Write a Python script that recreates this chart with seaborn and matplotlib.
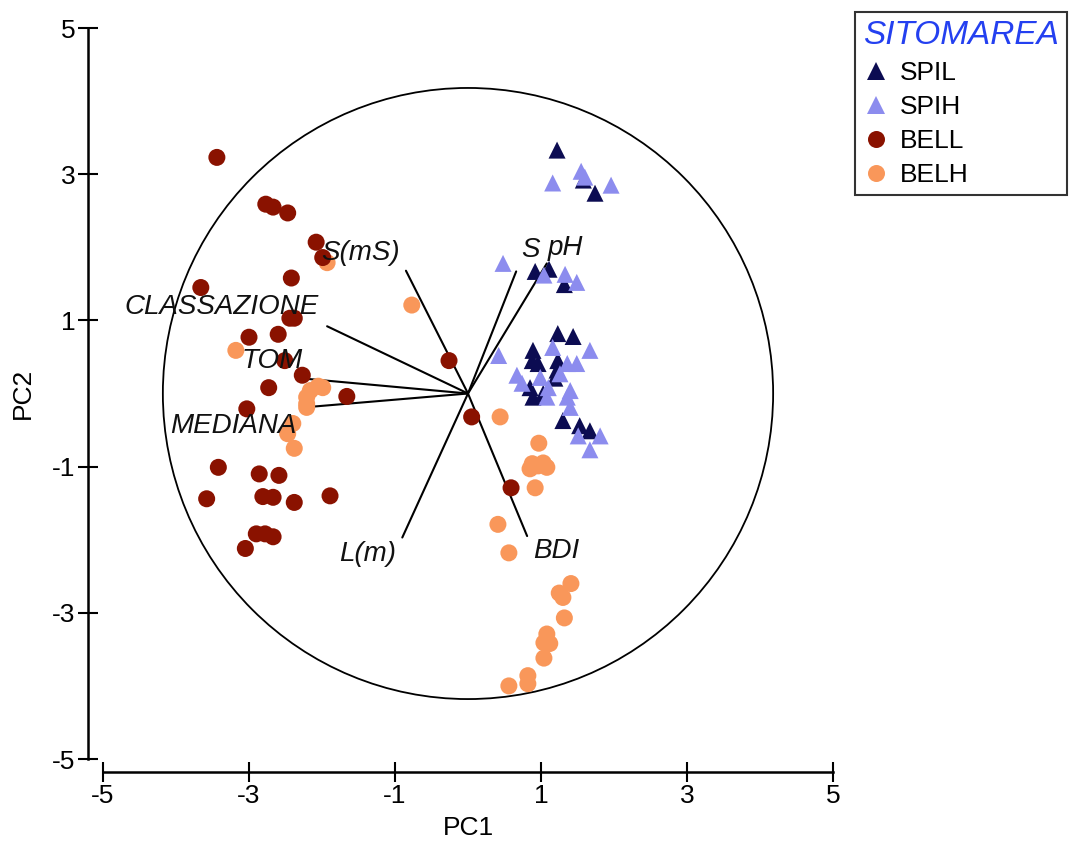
import matplotlib
matplotlib.use('Agg')
import matplotlib.pyplot as plt
import seaborn as sns
import pandas as pd
from matplotlib.patches import Circle

# site scores (PC1, PC2)
spil_x = [1.22, 1.58, 1.74, 0.92, 1.11, 1.32, 1.23, 1.44, 0.89, 0.88, 1.23, 1.22, 0.96,
          0.85, 0.89, 1.03, 1.19, 1.30, 1.53, 1.67]
spil_y = [3.33, 2.92, 2.74, 1.67, 1.70, 1.49, 0.82, 0.78, 0.59, 0.45, 0.45, 0.32, 0.41,
          0.08, -0.05, 0.00, 0.21, -0.37, -0.44, -0.51]
spih_x = [1.16, 1.55, 1.60, 1.96, 0.48, 1.04, 1.33, 1.49, 0.42, 1.16, 1.67, 0.67, 0.74,
          1.36, 1.49, 1.26, 1.40, 1.36, 1.40, 1.08, 1.10, 0.99, 1.51, 1.81, 1.67]
spih_y = [2.88, 3.04, 2.96, 2.85, 1.78, 1.62, 1.63, 1.52, 0.52, 0.63, 0.59, 0.25, 0.14,
          0.41, 0.41, 0.27, 0.04, -0.05, -0.19, -0.05, 0.08, 0.22, -0.58, -0.58, -0.77]
bell_x = [-3.44, -2.77, -2.67, -2.47, -2.08, -1.99, -2.42, -3.66, -2.44, -2.38, -3.00, -2.60,
          -2.51, -2.27, -2.73, -1.66, -3.03, -0.26, 0.05, -3.42, -2.86, -2.59, -3.58, -2.81,
          -2.67, -2.38, -1.89, -2.90, -2.78, -2.67, -3.05, 0.59]
bell_y = [3.23, 2.59, 2.55, 2.47, 2.07, 1.86, 1.58, 1.45, 1.03, 1.03, 0.77, 0.81,
          0.45, 0.25, 0.08, -0.04, -0.21, 0.45, -0.32, -1.01, -1.10, -1.12, -1.44, -1.41,
          -1.42, -1.49, -1.40, -1.92, -1.92, -1.96, -2.12, -1.29]
belh_x = [-0.77, -1.93, -3.18, -2.16, -1.99, -2.21, -2.21, -2.40, -2.47, -2.38, -2.21,
          0.44, 0.97, 0.88, 1.03, 0.85, 0.96, 1.08, 0.92, 0.41, 0.56, 1.41, 1.25, 1.30,
          1.32, 1.08, 1.12, 1.04, 1.04, 0.82, 0.82, 0.56, -2.05]
belh_y = [1.21, 1.79, 0.59, 0.04, 0.08, -0.05, -0.14, -0.41, -0.55, -0.75, -0.19,
          -0.32, -0.68, -0.96, -0.95, -1.03, -0.99, -1.01, -1.29, -1.79, -2.18, -2.60, -2.73, -2.79,
          -3.07, -3.29, -3.42, -3.41, -3.62, -3.86, -3.97, -4.00, 0.10]

# variable loadings
var_names = ['S(mS)', 'CLASSAZIONE', 'TOM', 'MEDIANA', 'L(m)', 'BDI', 'S', 'pH']
var_x = [-0.85, -1.93, -2.20, -2.25, -0.90, 0.81, 0.66, 1.08]
var_y = [1.68, 0.92, 0.20, -0.19, -1.97, -1.95, 1.67, 1.78]
lab_x = [-1.47, -3.37, -2.68, -3.22, -1.37, 1.21, 0.85, 1.34]
lab_y = [1.92, 1.18, 0.45, -0.44, -2.19, -2.16, 1.96, 1.99]

groups = ['SPIL', 'SPIH', 'BELL', 'BELH']
colors = {'SPIL': '#0c0c52', 'SPIH': '#8c8cee', 'BELL': '#8a1200', 'BELH': '#f9975a'}
marks = {'SPIL': '^', 'SPIH': '^', 'BELL': 'o', 'BELH': 'o'}

df = pd.concat([
    pd.DataFrame({'PC1': belh_x, 'PC2': belh_y, 'SITOMAREA': 'BELH'}),
    pd.DataFrame({'PC1': bell_x, 'PC2': bell_y, 'SITOMAREA': 'BELL'}),
    pd.DataFrame({'PC1': spil_x, 'PC2': spil_y, 'SITOMAREA': 'SPIL'}),
    pd.DataFrame({'PC1': spih_x, 'PC2': spih_y, 'SITOMAREA': 'SPIH'}),
], ignore_index=True)

sns.set_theme(style='white')
plt.rcParams['font.family'] = ['Liberation Sans', 'DejaVu Sans']
plt.rcParams['axes.unicode_minus'] = False
plt.rcParams['text.color'] = 'black'
plt.rcParams['axes.labelcolor'] = 'black'

fig = plt.figure(figsize=(10.74, 8.49), dpi=100)
ax = fig.add_axes([0.0959, 0.106, 0.6797, 0.861])

ax.add_patch(Circle((0, 0), 4.18, fill=False, edgecolor='black', linewidth=1.3, zorder=1))
for vx, vy in zip(var_x, var_y):
    ax.plot([0, vx], [0, vy], color='black', linewidth=1.5, zorder=1)

sns.scatterplot(data=df, x='PC1', y='PC2', hue='SITOMAREA', style='SITOMAREA',
                hue_order=groups, style_order=groups, palette=colors, markers=marks,
                s=150, linewidth=0, ax=ax, zorder=2)

for name, tx, ty in zip(var_names, lab_x, lab_y):
    ax.text(tx, ty, name, fontsize=20, style='italic', ha='center', va='center',
            color='#111111', zorder=3)

ax.set_xlim(-5, 5)
ax.set_ylim(-5, 5)
ax.set_xticks([-5, -3, -1, 1, 3, 5])
ax.set_yticks([-5, -3, -1, 1, 3, 5])
ax.set_xlabel('PC1', fontsize=19, labelpad=6)
ax.set_ylabel('PC2', fontsize=19, labelpad=12)
ax.tick_params(bottom=True, left=True, direction='inout', length=14, width=1.5,
               labelsize=19, colors='black', pad=2)
for side in ['top', 'right']:
    ax.spines[side].set_visible(False)
ax.spines['left'].set_position(('outward', 11))
ax.spines['bottom'].set_position(('outward', 9))
for side in ['left', 'bottom']:
    ax.spines[side].set_linewidth(1.8)
    ax.spines[side].set_color('black')

sns.move_legend(ax, loc='upper left', bbox_to_anchor=(1.03, 1.022), title='SITOMAREA',
                fontsize=19, frameon=True, fancybox=False, borderaxespad=0, markerscale=1.0,
                handletextpad=0.4, labelspacing=0.38, borderpad=0.3, handlelength=1.0,
                alignment='left')
leg = ax.get_legend()
leg.get_frame().set_edgecolor('black')
leg.get_frame().set_linewidth(1.5)
leg.get_title().set_color('#2440f0')
leg.get_title().set_fontstyle('italic')
leg.get_title().set_fontsize(24)

fig.savefig('out.png', dpi=100)
